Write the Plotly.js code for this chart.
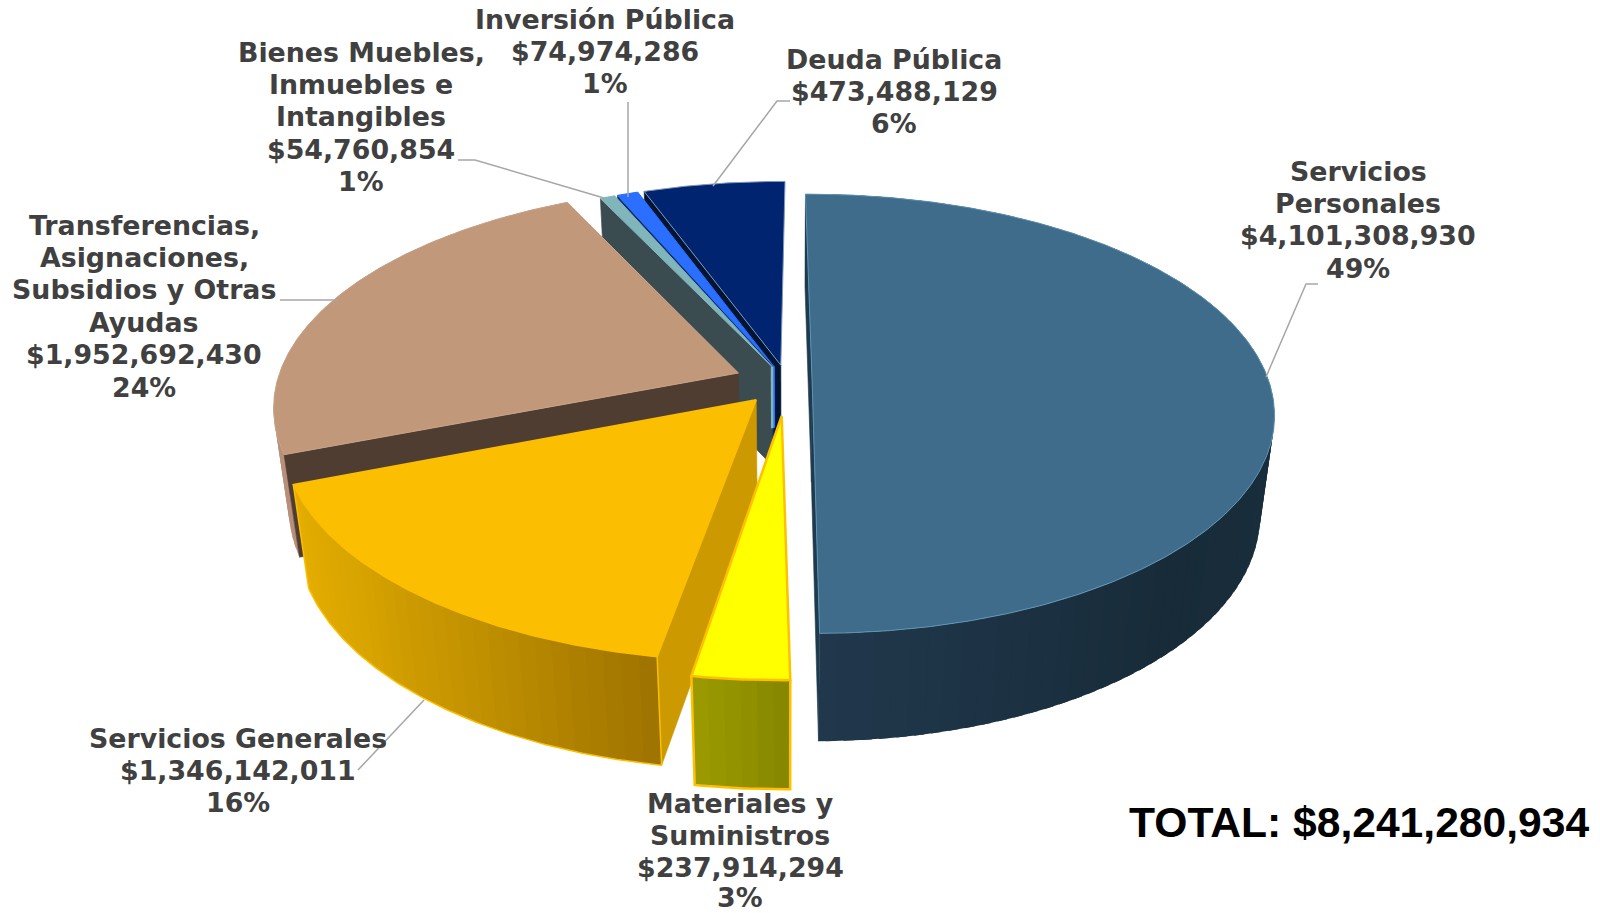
<!DOCTYPE html>
<html><head><meta charset="utf-8">
<script src="https://cdn.plot.ly/plotly-3.0.1.min.js"></script>
<style>html,body{margin:0;padding:0;background:#fff}#c{width:1600px;height:913px}</style></head>
<body><div id="c"></div>
<script>
// ---- data ----
const categories = ["Servicios Personales","Materiales y Suministros","Servicios Generales","Transferencias, Asignaciones, Subsidios y Otras Ayudas","Bienes Muebles, Inmuebles e Intangibles","Inversión Pública","Deuda Pública"];
const values = [4101308930,237914294,1346142011,1952692430,54760854,74974286,473488129];
const percentLabels = ["49%","3%","16%","24%","1%","1%","6%"];
const totalLabel = "TOTAL: $8,241,280,934";
const nameLines = [["Servicios","Personales"],["Materiales y","Suministros"],["Servicios Generales"],["Transferencias,","Asignaciones,","Subsidios y Otras","Ayudas"],["Bienes Muebles,","Inmuebles e","Intangibles"],["Inversión Pública"],["Deuda Pública"]];

// ---- projection of the 3-D exploded pie ----
const CX=787, CY=382, RX=457, RY=215, P=0.145, Q=0.03, H=103, START=0.5;
const explode=[0.055,0.155,0.105,0.115,0.08,0.08,0.08];
const rScale=[1,1,1.012,1.01,1,1,1];
const a0Trim=[-1,-0.65,-0.2,0,0.2,0.2,0];
const a1Trim=[0,-0.65,0,0,0,0,0];
const showA0=[true,false,true,true,true,true,true];
const showA1=[true,false,false,false,false,false,false];
const showWall=[true,true,true,true,false,false,false];
const styles=[
 {top:"#406c8c",edge:"#5f93b5",side:"#1d3a4e",wall:["#1a2f3e","#1a2f3e","#1a2f3e","#172b38","#21384d"]},
 {top:"#ffff00",edge:"#ffc000",side:"#9e9e00",wall:["#878700","#9e9e00"],ew:2.5},
 {top:"#fcbe00",edge:"#fcbe00",side:"#cc9a00",wall:["#a07400","#c09000","#d8a400","#e6ae00"],ew:1.5},
 {top:"#c2987a",edge:"#c9a288",side:"#503d32",wall:["#b8907a","#b8907a"]},
 {top:"#7fb5bb",edge:"#7fb5bb",side:"#3a4c50",wall:["#3a4c50","#3a4c50"],stripe:true},
 {top:"#2a6fff",edge:"#2a6fff",side:"#0f2a66",wall:["#103a90","#103a90"],stripe:true},
 {top:"#00246f",edge:"#7f96bb",side:"#001533",wall:["#001533","#001533"]}
];
const labelPos=[[1358,171],[740,803],[238,738],[144,225],[361,52],[605,19],[894,59]];
const LINE=32.4, MAXY=897.5;
const leaders=[
 [[1266,377],[1306,284],[1318,284]],
 [[713,186],[777,101],[790,101]],
 [[628,197],[628,102]],
 [[604,198],[475,160],[458,160]],
 [[338,300],[280,300]],
 [[424,700],[358,770]]
];

const total=values.reduce((a,b)=>a+b,0);
const rad=d=>d*Math.PI/180;
function proj(X,Y,low){
  const s=1/(1+P*Y+(low?Q:0));
  return [CX+RX*X*s, CY+(-RY*Y+(low?H:0))*s];
}
function mix(stops,t){
  const n=stops.length-1, i=Math.min(n-1,Math.floor(t*n)), f=t*n-i;
  const h=c=>[1,3,5].map(k=>parseInt(c.substr(k,2),16));
  const a=h(stops[i]),b=h(stops[i+1]);
  return "rgb("+a.map((v,k)=>Math.round(v+(b[k]-v)*f)).join(",")+")";
}
const traces=[];
function poly(pts,fill,line,w){
  traces.push({type:"scatter",mode:"lines",x:pts.map(p=>p[0]).concat(pts[0][0]),y:pts.map(p=>p[1]).concat(pts[0][1]),
    fill:"toself",fillcolor:fill,line:{color:line||fill,width:w===undefined?0.6:w},hoverinfo:"skip",showlegend:false});
}
// slice geometry from the values
let a=START; const slices=values.map((v,i)=>{const sp=v/total*360;const s={a0:a+a0Trim[i],a1:a+sp+a1Trim[i],i};a+=sp;return s;});
const order=[6,5,4,3,2,1,0];
order.forEach(i=>{
  const s=slices[i], st=styles[i], mid=rad((s.a0+s.a1)/2);
  const ex=explode[i]*Math.sin(mid), ey=explode[i]*Math.cos(mid), rs=rScale[i];
  const pt=(deg,low)=>proj(ex+rs*Math.sin(rad(deg)),ey+rs*Math.cos(rad(deg)),low);
  const apex=low=>proj(ex,ey,low);
  // outer wall, shaded in overlapping strips so that no seams show
  if(showWall[i]){
    const step=(s.a1-s.a0)/Math.max(1,Math.ceil((s.a1-s.a0)/2));
    for(let d=s.a0;d<s.a1-1e-6;d+=step){
      const t=(d-s.a0)/(s.a1-s.a0);
      const c=mix(st.wall,t);
      poly([pt(d,false),pt(Math.min(d+step*1.6,s.a1),false),pt(Math.min(d+step*1.6,s.a1),true),pt(d,true)],c,c,0);
    }
  }
  // radial faces that the camera can see
  if(showA1[i]) poly([apex(false),pt(s.a1,false),pt(s.a1,true),apex(true)],st.side);
  if(showA0[i]) poly([apex(false),pt(s.a0,false),pt(s.a0,true),apex(true)],st.side);
  if(st.stripe){
    const p=apex(false),q=apex(true);
    traces.push({type:"scatter",mode:"lines",x:[p[0],p[0]+(q[0]-p[0])*0.62],y:[p[1],p[1]+(q[1]-p[1])*0.62],line:{color:st.top,width:2.5},hoverinfo:"skip",showlegend:false});
  }
  // top face
  const top=[apex(false)];
  for(let d=s.a0;d<s.a1;d+=0.5) top.push(pt(d,false));
  top.push(pt(s.a1,false));
  poly(top,st.top,st.edge,st.ew||1);
  if(st.ew){ // outline of the front wall
    const rim=[];
    for(let d=s.a0;d<s.a1;d+=0.5) rim.push(pt(d,true));
    rim.push(pt(s.a1,true));
    traces.push({type:"scatter",mode:"lines",x:[pt(s.a0,false)[0]].concat(rim.map(p=>p[0]),[pt(s.a1,false)[0]]),
      y:[pt(s.a0,false)[1]].concat(rim.map(p=>p[1]),[pt(s.a1,false)[1]]),line:{color:st.edge,width:st.ew},hoverinfo:"skip",showlegend:false});
  }
});
// leader lines
leaders.forEach(l=>traces.push({type:"scatter",mode:"lines",x:l.map(p=>p[0]),y:l.map(p=>p[1]),line:{color:"#a6a6a6",width:1.5},hoverinfo:"skip",showlegend:false}));

// labels, one annotation per line for exact spacing
const anns=[];
values.forEach((v,i)=>{
  const lines=nameLines[i].concat("$"+v.toLocaleString("en-US"),percentLabels[i]);
  lines.forEach((t,k)=>anns.push({x:labelPos[i][0],y:Math.min(MAXY,labelPos[i][1]+k*LINE),xref:"x",yref:"y",text:"<b>"+t+"</b>",showarrow:false,
    xanchor:"center",yanchor:"middle",font:{family:"DejaVu Sans",size:26.8,color:"#404040"}}));
});
anns.push({x:1359,y:822,xref:"x",yref:"y",text:"<b>"+totalLabel+"</b>",showarrow:false,xanchor:"center",yanchor:"middle",
  font:{family:"Liberation Sans",size:42.6,color:"#000"}});

Plotly.newPlot("c",traces,{
  width:1600,height:913,margin:{l:0,r:0,t:0,b:0},paper_bgcolor:"#fff",plot_bgcolor:"#fff",showlegend:false,
  xaxis:{range:[0,1600],visible:false,fixedrange:true},
  yaxis:{range:[913,0],visible:false,fixedrange:true},
  annotations:anns
},{displayModeBar:false,staticPlot:true});
</script></body></html>
